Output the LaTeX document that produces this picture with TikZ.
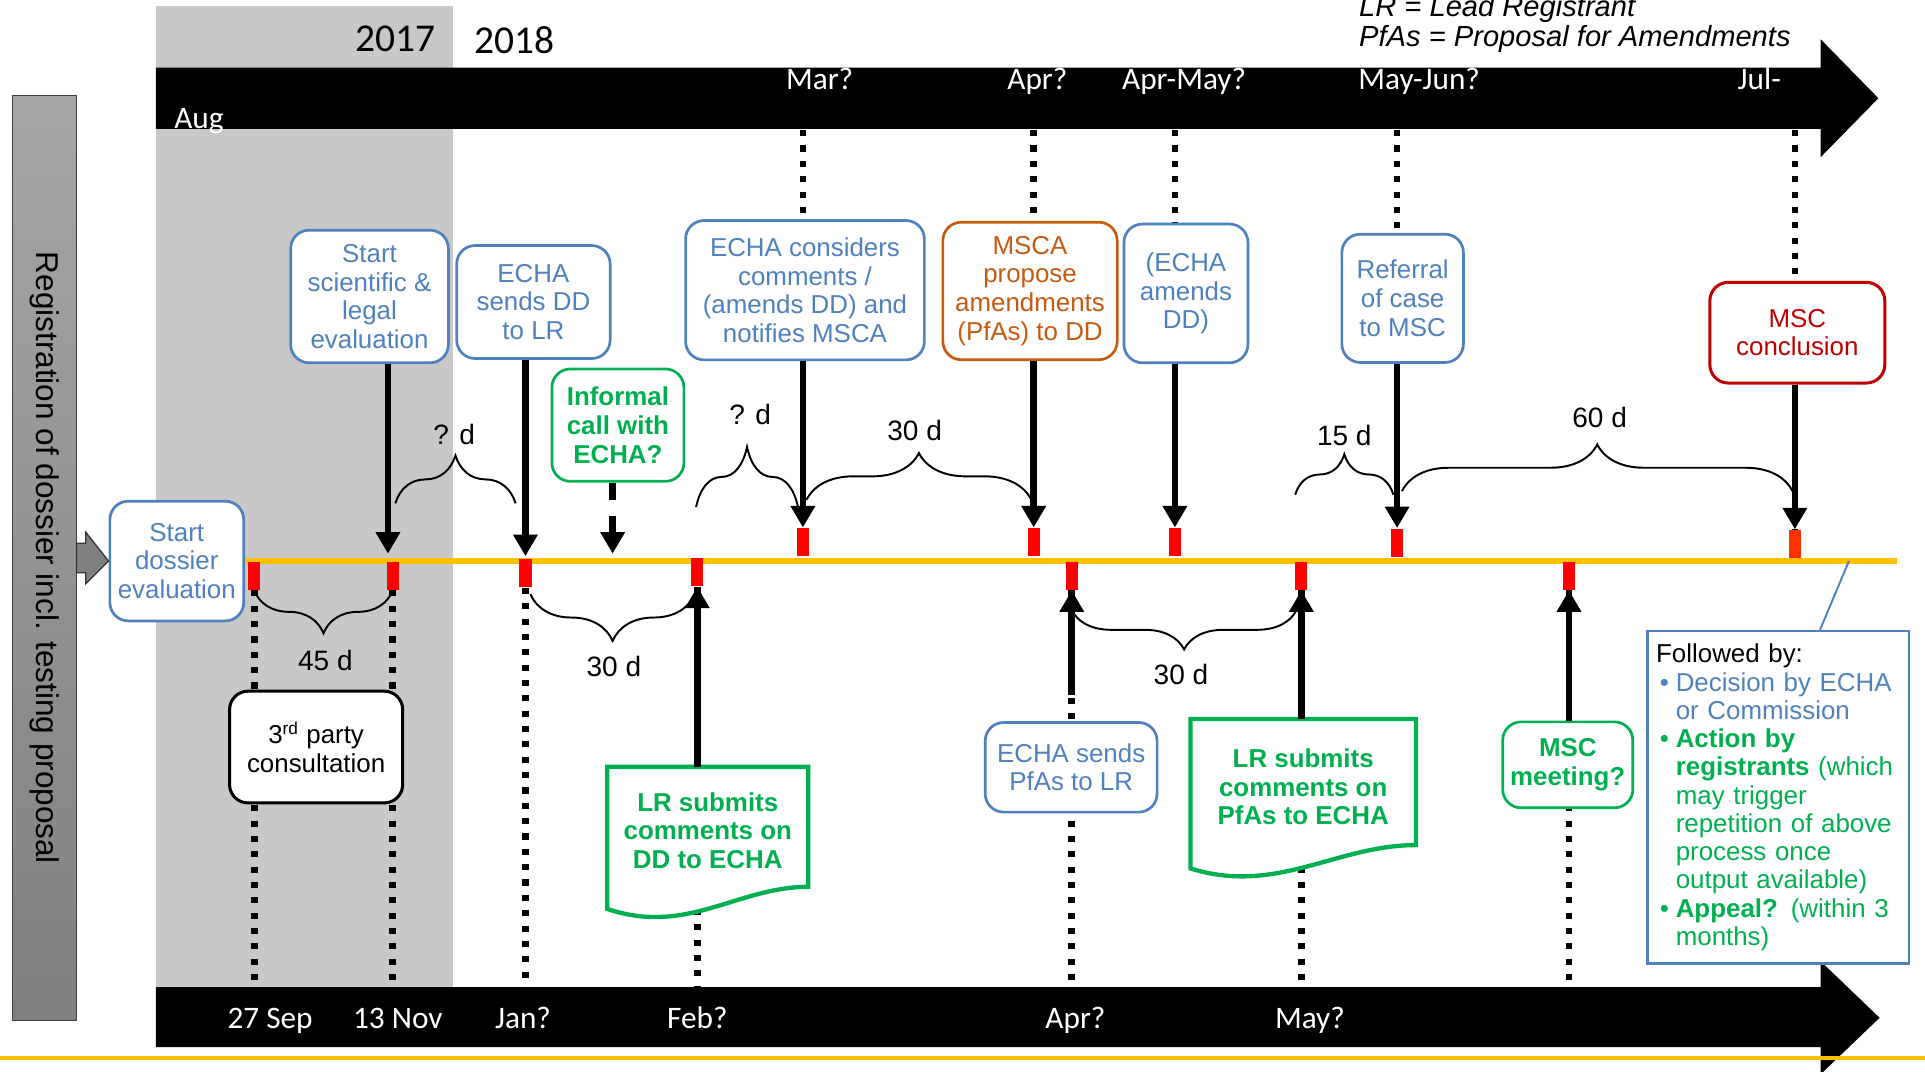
\documentclass[tikz,border=0pt]{standalone}
\usepackage{fontspec}
\setmainfont{Liberation Sans}
\newfontfamily\calfont{Carlito}
\usetikzlibrary{arrows.meta,decorations.pathreplacing,calc,positioning}

\definecolor{ecblue}{RGB}{79,129,189}
\definecolor{ecgreen}{RGB}{0,176,80}
\definecolor{ecorange}{RGB}{197,90,17}
\definecolor{ecred}{RGB}{192,0,0}
\definecolor{ecyellow}{RGB}{255,192,0}
\definecolor{ecshade}{RGB}{200,200,200}
\definecolor{ecmark}{RGB}{255,51,0}

\newcommand{\boxfont}{\fontsize{12}{13.3}\selectfont}
\newcommand{\barfont}{\calfont\fontsize{14.5}{16}\selectfont}
\newcommand{\bul}{\makebox[3.2mm][l]{\hspace{0.6mm}\textbullet}}
\newcommand{\itind}{\hspace*{3.2mm}}

\begin{document}
\begin{tikzpicture}[x=0.2mm, y=-0.2mm,
  every node/.style={font=\boxfont, align=center, inner sep=1pt},
  bbox/.style={draw=ecblue, text=ecblue, rounded corners=3mm, line width=1.25pt, fill=white},
  gbox/.style={bbox, draw=ecgreen, text=ecgreen, font=\boxfont\bfseries},
  obox/.style={bbox, draw=ecorange, text=ecorange},
  rbox/.style={bbox, draw=ecred, text=ecred, line width=1.4pt},
  kbox/.style={bbox, draw=black, text=black, line width=1.4pt},
  doctext/.style={inner sep=0pt, text=ecgreen, font=\boxfont\bfseries},
  docline/.style={draw=ecgreen, line width=2pt, fill=white},
  redmk/.style={fill=red, inner sep=0pt, minimum width=2mm, minimum height=4.6mm},
  arr/.style={line width=1.1mm, -{Triangle[width=3.8mm,length=3.5mm]}},
  dateline/.style={line width=1.1mm, dash pattern=on 1mm off 1.5mm},
  brc/.style={decorate, line width=0.9pt},
  lbl/.style={font=\fontsize{13}{15}\selectfont},
  bartext/.style={text=white, font=\barfont, anchor=base}]
  \useasboundingbox (0,0) rectangle (1568,873);

  % time bars
  \fill[ecshade] (127,5) rectangle (369,804);
  \fill (127,55) -- (1483,55) -- (1483,32) -- (1530,80) -- (1483,128) -- (1483,105) -- (127,105) -- cycle;
  \fill (127,804) -- (1483,804) -- (1483,783) -- (1531,829) -- (1483,875) -- (1483,853) -- (127,853) -- cycle;
  \draw[ecyellow, line width=0.65mm] (0,862) -- (1568,862);
  \coordinate (topbar) at (0,106);
  \coordinate (botbar) at (0,804);

  \node[font=\calfont\fontsize{18.3}{20}\selectfont] (y17) at (322,32) {2017};
  \node[font=\calfont\fontsize{18.3}{20}\selectfont] (y18) at (419,33) {2018};
  \node[bartext] (aug) at (162,104.5) {Aug};
  \node[bartext] (mar) at (667.6,73.3) {Mar?};
  \node[bartext] (apr) at (845,73.3) {Apr?};
  \node[bartext] (aprmay) at (964.5,73.3) {Apr-May?};
  \node[bartext] (mayjun) at (1156,73.3) {May-Jun?};
  \node[bartext] (jul) at (1433,73.3) {Jul-};
  \node[bartext] (sep27) at (220,838) {27 Sep};
  \node[bartext] (nov13) at (324,838) {13 Nov};
  \node[bartext] (jan) at (426,838) {Jan?};
  \node[bartext] (feb) at (568,838) {Feb?};
  \node[bartext] (apr2) at (876,838) {Apr?};
  \node[bartext] (may) at (1067,838) {May?};

  \node[anchor=base west, font=\fontsize{13.5}{15}\selectfont\itshape] (leg1) at (1105,13.6) {LR = Lead Registrant};
  \node[anchor=base west, font=\fontsize{13.5}{15}\selectfont\itshape] (leg2) at (1105,38) {PfAs = Proposal for Amendments};

  % start of the evaluation
  \node[draw=black!75, top color=black!35, bottom color=black!50, minimum width=10.4mm, minimum height=150.6mm, inner sep=0pt] (reg) at (36,454.5) {};
  \node[rotate=-90, font=\fontsize{14.6}{16}\selectfont] at (reg) {Registration of dossier incl. testing proposal};
  \node[bbox, minimum width=21.8mm, minimum height=19.5mm] (sde) at (144,457) {Start\\dossier\\evaluation};
  \draw[fill=black!50, draw=black!80, line width=0.6pt] (reg.east) ++(0,-12) -- ++(7.5,0) -- ++(0,-9) -- (sde.west)
    -- ($(reg.east)+(7.5,21)$) -- ++(0,-9) -- ++(-7.5,0) -- cycle;

  % time line and marks
  \coordinate (tlend) at (1545,456);
  \draw[ecyellow, line width=0.9mm] (sde.east) -- (sde.east -| tlend);
  \node[redmk] (k1) at (207,469) {};
  \node[redmk] (k2) at (320,469) {};
  \node[redmk] (k3) at (428,467) {};
  \node[redmk] (k4) at (568,466) {};
  \node[redmk] (k5) at (873,469) {};
  \node[redmk] (k6) at (1060,469) {};
  \node[redmk] (k7) at (1278,469) {};
  \node[redmk] (u1) at (654,441.5) {};
  \node[redmk] (u2) at (842,441.5) {};
  \node[redmk] (u3) at (957,441.5) {};
  \node[redmk] (u4) at (1138,442) {};
  \node[redmk, fill=ecmark] (u5) at (1462,443) {};
  \foreach \m in {u1,u2,u3,u4,u5}
    \draw[dateline] (\m.north |- topbar) -- (\m.north);
  \foreach \m in {k1,k2,k3,k4,k5,k6,k7}
    \draw[dateline] (\m.south) -- (\m.south |- botbar);

  % steps
  \node[bbox, minimum width=25.7mm, minimum height=21.6mm] (ssl) at (301,241.5) {Start\\scientific \&\\legal\\evaluation};
  \node[bbox, minimum width=25mm, minimum height=18.4mm] (sdd) at (434.5,246) {ECHA\\sends DD\\to LR};
  \node[gbox, minimum width=21.5mm, minimum height=18.3mm] (icall) at (503.3,346.3) {Informal\\call with\\ECHA?};
  \node[bbox, minimum width=38.9mm, minimum height=22.7mm] (ecc) at (655.7,236.4) {ECHA considers\\comments /\\(amends DD) and\\notifies MSCA};
  \node[obox, minimum width=28.4mm, minimum height=22.4mm] (msca) at (839,237) {MSCA\\propose\\amendments\\(PfAs) to DD};
  \node[bbox, minimum width=20.2mm, minimum height=22.6mm] (eam) at (966,239) {(ECHA\\amends\\DD)};
  \node[bbox, minimum width=19.8mm, minimum height=20.9mm] (ref) at (1142.5,243) {Referral\\of case\\to MSC};
  \node[rbox, minimum width=28.5mm, minimum height=16.4mm] (mscc) at (1464,271) {MSC\\conclusion};
  \node[kbox, minimum width=28.2mm, minimum height=18.2mm] (third) at (257.5,608.5) {3\textsuperscript{rd} party\\consultation};
  \node[bbox, minimum width=28mm, minimum height=14.6mm] (pfas) at (872.5,625) {ECHA sends\\PfAs to LR};
  \node[gbox, minimum width=21.2mm, minimum height=14mm] (mscm) at (1277,623) {MSC\\meeting?};

  \node[inner sep=0pt, minimum width=32.6mm, minimum height=19.4mm] (doc1) at (576.5,673.5) {};
  \draw[docline] ($(doc1.south west)+(0,18)$) -- (doc1.north west) -- (doc1.north east) -- (doc1.south east)
    .. controls +(-58,0) and +(65,22) .. ($(doc1.south west)+(0,18)$) -- cycle;
  \node[doctext] at ($(doc1)+(0,3)$) {LR submits\\comments on\\DD to ECHA};
  \node[inner sep=0pt, minimum width=36.6mm, minimum height=20.4mm] (doc2) at (1061.5,637) {};
  \draw[docline] ($(doc2.south west)+(0,19)$) -- (doc2.north west) -- (doc2.north east) -- (doc2.south east)
    .. controls +(-65,0) and +(70,22) .. ($(doc2.south west)+(0,19)$) -- cycle;
  \node[doctext] at ($(doc2)+(0,4)$) {LR submits\\comments on\\PfAs to ECHA};

  % arrows to the time line
  \coordinate (n13) at (316,451);
  \coordinate (njan) at (428,453);
  \coordinate (ninf) at (499,451);
  \draw[arr] (ssl.south -| n13) -- (n13);
  \draw[arr] (sdd.south -| njan) -- (njan);
  \draw[arr, dash pattern=on 2.8mm off 2.6mm] (icall.south -| ninf) -- (ninf);
  \draw[arr] (u1.north |- ecc.south) -- (u1.north);
  \draw[arr] (u2.north |- msca.south) -- (u2.north);
  \draw[arr] (u3.north |- eam.south) -- (u3.north);
  \draw[arr] (u4.north |- ref.south) -- (u4.north);
  \draw[arr] (u5.north |- mscc.south) -- (u5.north);
  \draw[arr] (k4.south |- doc1.north) -- (k4.south);
  \draw[arr] ($(k5.south |- pfas.north)+(0,-21)$) -- (k5.south);
  \draw[arr] (k6.south |- doc2.north) -- (k6.south);
  \draw[arr] (k7.south |- mscm.north) -- (k7.south);

  % durations
  \coordinate (qa) at (322,410);  \coordinate (qb) at (420,410);
  \coordinate (ta) at (432,484);  \coordinate (tb) at (566,484);
  \coordinate (ra) at (567,413);  \coordinate (rb) at (650,413);
  \coordinate (sa) at (657,407);  \coordinate (sb) at (840,407);
  \coordinate (va) at (873,497);  \coordinate (vb) at (1056,497);
  \coordinate (fa) at (1055,403); \coordinate (fb) at (1135,403);
  \coordinate (xa) at (1142,400); \coordinate (xb) at (1460,400);
  \draw[brc, decoration={brace, mirror, amplitude=7mm}] (k1.south) -- (k2.south);
  \draw[brc, decoration={brace, amplitude=7.8mm}] (qa) -- (qb);
  \draw[brc, decoration={brace, mirror, amplitude=7.6mm}] (ta) -- (tb);
  \draw[brc, decoration={brace, amplitude=9.8mm}] (ra) -- (rb);
  \draw[brc, decoration={brace, amplitude=7.6mm}] (sa) -- (sb);
  \draw[brc, decoration={brace, mirror, amplitude=6.4mm}] (va) -- (vb);
  \draw[brc, decoration={brace, amplitude=6.6mm}] (fa) -- (fb);
  \draw[brc, decoration={brace, amplitude=7.6mm}] (xa) -- (xb);
  \node[lbl] (d45) at (265,538) {45 d};
  \node[lbl] (dq1) at (370,354) {? d};
  \node[lbl] (d30a) at (500,543) {30 d};
  \node[lbl] (dq2) at (611,338) {? d};
  \node[lbl] (d30b) at (745,351) {30 d};
  \node[lbl] (d30c) at (962,549) {30 d};
  \node[lbl] (d15) at (1095,355) {15 d};
  \node[lbl] (d60) at (1303,340) {60 d};

  % what follows
  \coordinate (fbend) at (1506,457);
  \node[draw=ecblue, line width=1.2pt, fill=white, align=left, text width=39.8mm, minimum height=54.2mm,
    inner xsep=1.4mm, inner ysep=0pt, font=\fontsize{12}{13.1}\selectfont] (follow) at (1448.5,649.5) {Followed by:\\
    \textcolor{ecblue}{\bul Decision by ECHA}\\
    \textcolor{ecblue}{\itind or Commission}\\
    \textcolor{ecgreen}{\bul\textbf{Action by}}\\
    \textcolor{ecgreen}{\itind\textbf{registrants} (which}\\
    \textcolor{ecgreen}{\itind may trigger}\\
    \textcolor{ecgreen}{\itind repetition of above}\\
    \textcolor{ecgreen}{\itind process once}\\
    \textcolor{ecgreen}{\itind output available)}\\
    \textcolor{ecgreen}{\bul\textbf{Appeal?} (within 3}\\
    \textcolor{ecgreen}{\itind months)}};
  \draw[ecblue, line width=0.9pt] ($(follow.north)+(34,0)$) -- (fbend);
\end{tikzpicture}
\end{document}
